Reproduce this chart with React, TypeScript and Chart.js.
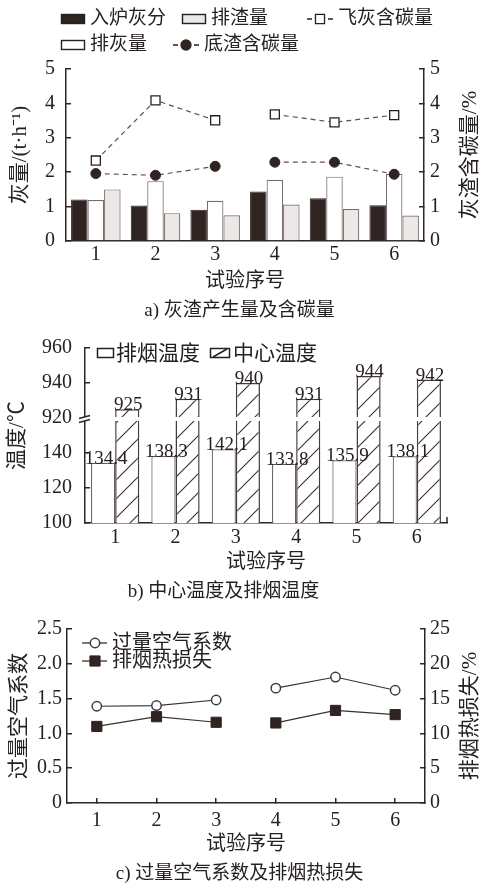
import React, { useEffect, useRef } from 'react';
import { Chart, registerables } from 'chart.js';

Chart.register(...registerables);

// ---------------- data ----------------
const TRIALS = ['1', '2', '3', '4', '5', '6'];
const SERIES_BREAK_AFTER = 3; // lines are not joined between trial 3 and trial 4

// a) 灰渣产生量及含碳量
const FEED_ASH = [1.21, 1.03, 0.91, 1.44, 1.24, 1.04]; // 入炉灰分
const ASH_DISCHARGE = [1.19, 1.74, 1.17, 1.78, 1.87, 1.95]; // 排灰量
const SLAG_DISCHARGE = [1.5, 0.81, 0.75, 1.06, 0.93, 0.74]; // 排渣量
const FLY_ASH_CARBON = [2.34, 4.09, 3.51, 3.68, 3.45, 3.66]; // 飞灰含碳量
const BOTTOM_ASH_CARBON = [1.96, 1.91, 2.17, 2.29, 2.29, 1.94]; // 底渣含碳量
const A_AXIS_MAX = 5;

// b) 中心温度及排烟温度
const FLUE_TEMP = [134.4, 138.3, 142.1, 133.8, 135.9, 138.1]; // 排烟温度
const CENTER_TEMP = [925, 931, 940, 931, 944, 942]; // 中心温度
const B_LOWER_TICKS = [100, 120, 140];
const B_UPPER_TICKS = [920, 940, 960];
const B_STEP = 20;

// c) 过量空气系数及排烟热损失
const EXCESS_AIR = [1.39, 1.4, 1.48, 1.65, 1.81, 1.62]; // 过量空气系数
const FLUE_LOSS = [11.0, 12.4, 11.6, 11.5, 13.3, 12.7]; // 排烟热损失 %
const C_LEFT_MAX = 2.5;
const C_RIGHT_MAX = 25;

// ---------------- style ----------------
const W = 479;
const FONT = "'Liberation Serif', 'Times New Roman', 'Noto Sans CJK SC', serif";
const INK = '#262120';
const AXIS = '#2d2724';
const DARK_FILL = '#2f2421';
const EDGE = '#7a6d68';
const SLAG_FILL = '#ece8e7';
const DASH = '#5e504b';
const CIRCLE_EDGE = '#3c3a48';

Chart.defaults.font.family = FONT;
Chart.defaults.color = INK;

// axis-break mapping for b)
const B_BREAK_POS = B_LOWER_TICKS[B_LOWER_TICKS.length - 1] + B_STEP; // axis position of first upper tick
const B_SHIFT = B_UPPER_TICKS[0] - B_BREAK_POS;
const toAxisB = (v: number) => (v >= B_UPPER_TICKS[0] - B_STEP ? v - B_SHIFT : v);
const B_MIN = B_LOWER_TICKS[0];
const B_MAX = toAxisB(B_UPPER_TICKS[B_UPPER_TICKS.length - 1]);

const breakSeg = (ctx: any) => (ctx.p0DataIndex === SERIES_BREAK_AFTER - 1 ? 'rgba(0,0,0,0)' : undefined);

const yGrid = { display: true, drawOnChartArea: false, drawTicks: true, tickLength: -5, color: AXIS, lineWidth: 1.5 };
const border = { display: true, color: AXIS, width: 1.5 };
const tickFont = { size: 20 };

function sideTitle(text: string) {
  return {
    id: 'sideTitle',
    afterDraw(chart: any) {
      const { ctx, chartArea } = chart;
      const s = chart.scales.y1;
      ctx.save();
      ctx.translate(s.right - 9, (chartArea.top + chartArea.bottom) / 2);
      ctx.rotate(-Math.PI / 2);
      ctx.font = `21px ${FONT}`;
      ctx.fillStyle = INK;
      ctx.textAlign = 'center';
      ctx.textBaseline = 'middle';
      ctx.fillText(text, 0, 0);
      ctx.restore();
    },
  };
}

function drawMarker(ctx: CanvasRenderingContext2D, style: string, x: number, y: number, r: number, fill: string, stroke: string, lw: number) {
  ctx.save();
  ctx.fillStyle = fill;
  ctx.strokeStyle = stroke;
  ctx.lineWidth = lw;
  ctx.setLineDash([]);
  ctx.beginPath();
  if (style === 'rect') {
    const h = r * Math.SQRT1_2;
    ctx.rect(x - h, y - h, 2 * h, 2 * h);
  } else {
    ctx.arc(x, y, r, 0, Math.PI * 2);
  }
  ctx.fill();
  ctx.stroke();
  ctx.restore();
}

// ---------------- chart a ----------------
const legendA = {
  id: 'legendA',
  afterDraw(chart: any) {
    const { ctx } = chart;
    const ds = chart.data.datasets;
    ctx.save();
    ctx.font = `19px ${FONT}`;
    ctx.textBaseline = 'middle';
    ctx.textAlign = 'left';
    const boxItem = (d: any, x: number, y: number) => {
      ctx.fillStyle = d.backgroundColor;
      ctx.fillRect(x, y - 5, 24, 10);
      ctx.strokeStyle = INK;
      ctx.lineWidth = 1.4;
      ctx.strokeRect(x + 0.5, y - 4.5, 23, 9);
      ctx.fillStyle = INK;
      ctx.fillText(d.label, x + 29, y);
    };
    const lineItem = (d: any, x: number, y: number) => {
      ctx.strokeStyle = INK;
      ctx.lineWidth = 1.6;
      ctx.beginPath();
      ctx.moveTo(x, y);
      ctx.lineTo(x + 5, y);
      ctx.moveTo(x + 21, y);
      ctx.lineTo(x + 26, y);
      ctx.stroke();
      drawMarker(ctx, d.pointStyle, x + 13, y, d.pointStyle === 'rect' ? 6.4 : 5, d.pointBackgroundColor, d.pointBorderColor, 1.3);
      ctx.fillStyle = INK;
      ctx.fillText(d.label, x + 31, y);
    };
    boxItem(ds[2], 61, 19);
    boxItem(ds[4], 182, 19);
    lineItem(ds[0], 307, 19);
    boxItem(ds[3], 61, 45);
    lineItem(ds[1], 173, 45);
    ctx.restore();
  },
};

function makeA(canvas: HTMLCanvasElement) {
  return new Chart(canvas, {
    type: 'bar',
    data: {
      labels: TRIALS,
      datasets: [
        {
          type: 'line', label: '飞灰含碳量', data: FLY_ASH_CARBON, yAxisID: 'y1', order: 0,
          borderColor: DASH, borderWidth: 1.2, borderDash: [5, 4], pointStyle: 'rect', pointRadius: 6.4,
          pointBackgroundColor: '#fff', pointBorderColor: INK, pointBorderWidth: 1.3, segment: { borderColor: breakSeg },
        },
        {
          type: 'line', label: '底渣含碳量', data: BOTTOM_ASH_CARBON, yAxisID: 'y1', order: 0,
          borderColor: DASH, borderWidth: 1.2, borderDash: [5, 4], pointStyle: 'circle', pointRadius: 5,
          pointBackgroundColor: DARK_FILL, pointBorderColor: DARK_FILL, pointBorderWidth: 1, segment: { borderColor: breakSeg },
        },
        { label: '入炉灰分', data: FEED_ASH, yAxisID: 'y', order: 1, backgroundColor: DARK_FILL, borderColor: DARK_FILL, borderWidth: 1 },
        { label: '排灰量', data: ASH_DISCHARGE, yAxisID: 'y', order: 1, backgroundColor: '#ffffff', borderColor: EDGE, borderWidth: 1.2 },
        { label: '排渣量', data: SLAG_DISCHARGE, yAxisID: 'y', order: 1, backgroundColor: SLAG_FILL, borderColor: EDGE, borderWidth: 1.2 },
      ] as any,
    },
    options: {
      animation: false,
      responsive: false,
      maintainAspectRatio: false,
      layout: { padding: { top: 69, left: 0, right: 0, bottom: 0 } },
      datasets: { bar: { barPercentage: 1, categoryPercentage: 0.83 } },
      plugins: {
        legend: { display: false },
        tooltip: { enabled: false },
        title: {
          display: true, position: 'bottom', text: 'a) 灰渣产生量及含碳量', color: INK,
          font: { size: 19, weight: 'normal', lineHeight: 1.2 }, padding: { top: 0, bottom: 7.6 },
        },
      },
      scales: {
        x: {
          grid: { display: false, drawTicks: false },
          border,
          ticks: { font: tickFont, color: INK, padding: 1.5 },
          title: { display: true, text: '试验序号', color: INK, font: { size: 20, lineHeight: 1.2 }, padding: { top: 0, bottom: 5.6 } },
          afterFit: (s: any) => { s.height = 58.6; },
        },
        y: {
          position: 'left', min: 0, max: A_AXIS_MAX,
          grid: yGrid, border,
          ticks: { stepSize: 1, font: tickFont, color: INK, padding: 16 },
          title: { display: true, text: '灰量/(t·h⁻¹)', color: INK, font: { size: 21, lineHeight: 1.2 }, padding: { top: 7.4, bottom: 0 } },
          afterFit: (s: any) => { s.width = 66; },
        },
        y1: {
          position: 'right', min: 0, max: A_AXIS_MAX,
          grid: yGrid, border,
          ticks: { stepSize: 1, font: tickFont, color: INK, padding: 11 },
          afterFit: (s: any) => { s.width = 55; },
        },
      },
    } as any,
    plugins: [legendA, sideTitle('灰渣含碳量/%')],
  });
}

// ---------------- chart b ----------------
function hatchPattern(ctx: CanvasRenderingContext2D) {
  const size = 19;
  const c = document.createElement('canvas');
  c.width = size;
  c.height = size;
  const g = c.getContext('2d')!;
  g.fillStyle = '#fff';
  g.fillRect(0, 0, size, size);
  g.strokeStyle = '#3a302c';
  g.lineWidth = 1.1;
  g.beginPath();
  g.moveTo(-1, size + 1);
  g.lineTo(size + 1, -1);
  g.moveTo(-2, 2);
  g.lineTo(2, -2);
  g.moveTo(size - 2, size + 2);
  g.lineTo(size + 2, size - 2);
  g.stroke();
  return ctx.createPattern(c, 'repeat')!;
}

const legendAndLabelsB = {
  id: 'legendAndLabelsB',
  afterDatasetsDraw(chart: any) {
    const { ctx, chartArea } = chart;
    const y = chart.scales.y.getPixelForValue(B_BREAK_POS);
    ctx.save();
    // axis break band
    ctx.fillStyle = '#fff';
    ctx.fillRect(chartArea.left - 7, y - 1, chartArea.right - chartArea.left + 7, 4);
    ctx.strokeStyle = AXIS;
    ctx.lineWidth = 1.3;
    ctx.beginPath();
    ctx.moveTo(chartArea.left - 6, y + 0.5);
    ctx.lineTo(chartArea.left + 5, y - 2.5);
    ctx.moveTo(chartArea.left - 6, y + 4.5);
    ctx.lineTo(chartArea.left + 5, y + 1.5);
    ctx.stroke();
    // right end tick of x axis
    ctx.lineWidth = 1.5;
    ctx.beginPath();
    ctx.moveTo(chartArea.right, chartArea.bottom);
    ctx.lineTo(chartArea.right, chartArea.bottom - 6);
    ctx.stroke();
    // value labels
    ctx.font = `19px ${FONT}`;
    ctx.fillStyle = INK;
    ctx.textAlign = 'center';
    ctx.textBaseline = 'alphabetic';
    const sets = [FLUE_TEMP, CENTER_TEMP];
    sets.forEach((vals, di) => {
      const meta = chart.getDatasetMeta(di);
      meta.data.forEach((el: any, i: number) => {
        ctx.fillText(String(vals[i]), el.x + (di === 0 ? 3 : 1), el.y + 1);
      });
    });
    // legend
    const ds = chart.data.datasets;
    ctx.font = `21px ${FONT}`;
    ctx.textAlign = 'left';
    ctx.textBaseline = 'middle';
    const ly = 23;
    ctx.fillStyle = '#fff';
    ctx.fillRect(97, ly - 5, 17, 10);
    ctx.strokeStyle = INK;
    ctx.lineWidth = 1.5;
    ctx.strokeRect(97.5, ly - 4.5, 16, 9);
    ctx.fillStyle = INK;
    ctx.fillText(ds[0].label, 116, ly + 1);
    ctx.strokeRect(210.5, ly - 4.5, 19, 9);
    ctx.beginPath();
    ctx.moveTo(213, ly + 4);
    ctx.lineTo(227, ly - 4);
    ctx.stroke();
    ctx.fillText(ds[1].label, 233, ly + 1);
    ctx.restore();
  },
};

function makeB(canvas: HTMLCanvasElement) {
  const ctx = canvas.getContext('2d')!;
  return new Chart(canvas, {
    type: 'bar',
    data: {
      labels: TRIALS,
      datasets: [
        { label: '排烟温度', data: FLUE_TEMP.map(toAxisB), backgroundColor: '#ffffff', borderColor: '#6a5d58', borderWidth: 1.2 },
        { label: '中心温度', data: CENTER_TEMP.map(toAxisB), backgroundColor: hatchPattern(ctx), borderColor: '#4a3c38', borderWidth: 1.5 },
      ],
    },
    options: {
      animation: false,
      responsive: false,
      maintainAspectRatio: false,
      layout: { padding: { top: 18, left: 0, right: 32, bottom: 0 } },
      datasets: { bar: { barPercentage: 1, categoryPercentage: 0.8 } },
      plugins: {
        legend: { display: false },
        tooltip: { enabled: false },
        title: {
          display: true, position: 'bottom', text: 'b) 中心温度及排烟温度', color: INK,
          font: { size: 19, weight: 'normal', lineHeight: 1.2 }, padding: { top: 0, bottom: 7 },
        },
      },
      scales: {
        x: {
          grid: { display: false, drawTicks: false },
          border,
          ticks: { font: tickFont, color: INK, padding: 3 },
          title: { display: true, text: '试验序号', color: INK, font: { size: 20, lineHeight: 1.2 }, padding: { top: 0, bottom: 5.2 } },
          afterFit: (s: any) => { s.height = 57.2; },
        },
        y: {
          position: 'left', min: B_MIN, max: B_MAX,
          grid: yGrid, border,
          ticks: {
            stepSize: B_STEP, font: tickFont, color: INK, padding: 18,
            callback: (v: any) => (v >= B_BREAK_POS ? v + B_SHIFT : v),
          },
          title: { display: true, text: '温度/℃', color: INK, font: { size: 21, lineHeight: 1.2 }, padding: { top: 5, bottom: 0 } },
          afterFit: (s: any) => { s.width = 85; s.paddingTop = 0; s.paddingBottom = 0; },
        },
      },
    } as any,
    plugins: [legendAndLabelsB],
  });
}

// ---------------- chart c ----------------
const legendC = {
  id: 'legendC',
  afterDraw(chart: any) {
    const { ctx } = chart;
    const ds = chart.data.datasets;
    ctx.save();
    ctx.font = `20px ${FONT}`;
    ctx.textAlign = 'left';
    ctx.textBaseline = 'middle';
    const rows = [33, 51];
    ds.forEach((d: any, i: number) => {
      const y = rows[i];
      ctx.strokeStyle = d.borderColor;
      ctx.lineWidth = 1.3;
      ctx.beginPath();
      ctx.moveTo(82, y);
      ctx.lineTo(107, y);
      ctx.stroke();
      drawMarker(ctx, d.pointStyle, 95, y, d.pointRadius, d.pointBackgroundColor, d.pointBorderColor, d.pointBorderWidth);
      ctx.fillStyle = INK;
      ctx.fillText(d.label, 112, y + 1);
    });
    ctx.restore();
  },
};

function makeC(canvas: HTMLCanvasElement) {
  return new Chart(canvas, {
    type: 'line',
    data: {
      labels: TRIALS,
      datasets: [
        {
          label: '过量空气系数', data: EXCESS_AIR, yAxisID: 'y',
          borderColor: '#3b302c', borderWidth: 1.2, pointStyle: 'circle', pointRadius: 4.7,
          pointBackgroundColor: '#fff', pointBorderColor: CIRCLE_EDGE, pointBorderWidth: 1.5, segment: { borderColor: breakSeg },
        },
        {
          label: '排烟热损失', data: FLUE_LOSS, yAxisID: 'y1',
          borderColor: '#3b302c', borderWidth: 1.2, pointStyle: 'rect', pointRadius: 7.2,
          pointBackgroundColor: DARK_FILL, pointBorderColor: DARK_FILL, pointBorderWidth: 1, segment: { borderColor: breakSeg },
        },
      ] as any,
    },
    options: {
      animation: false,
      responsive: false,
      maintainAspectRatio: false,
      layout: { padding: { top: 19, left: 0, right: 0, bottom: 0 } },
      plugins: {
        legend: { display: false },
        tooltip: { enabled: false },
        title: {
          display: true, position: 'bottom', text: 'c) 过量空气系数及排烟热损失', color: INK,
          font: { size: 19, weight: 'normal', lineHeight: 1.2 }, padding: { top: 0, bottom: 0 },
        },
      },
      scales: {
        x: {
          offset: true,
          grid: { display: true, offset: false, drawOnChartArea: false, drawTicks: true, tickLength: -5, color: AXIS, lineWidth: 1.5 },
          border,
          ticks: { font: tickFont, color: INK, padding: 10.4 },
          title: { display: true, text: '试验序号', color: INK, font: { size: 20, lineHeight: 1.2 }, padding: { top: 0, bottom: 5.2 } },
          afterFit: (s: any) => { s.height = 59.2; },
        },
        y: {
          position: 'left', min: 0, max: C_LEFT_MAX,
          grid: yGrid, border,
          ticks: {
            stepSize: 0.5, font: tickFont, color: INK, padding: 10,
            callback: (v: any) => (v === 0 ? '0' : Number(v).toFixed(1)),
          },
          title: { display: true, text: '过量空气系数', color: INK, font: { size: 21, lineHeight: 1.2 }, padding: { top: 6.4, bottom: 0 } },
          afterFit: (s: any) => { s.width = 67; s.paddingTop = 0; s.paddingBottom = 0; },
        },
        y1: {
          position: 'right', min: 0, max: C_RIGHT_MAX,
          grid: yGrid, border,
          ticks: { stepSize: 5, font: tickFont, color: INK, padding: 10 },
          afterFit: (s: any) => { s.width = 54; s.paddingTop = 0; s.paddingBottom = 0; },
        },
      },
    } as any,
    plugins: [legendC, sideTitle('排烟热损失/%')],
  });
}

// ---------------- components ----------------
function ChartBox({ top, height, make }: { top: number; height: number; make: (c: HTMLCanvasElement) => Chart }) {
  const ref = useRef<HTMLCanvasElement | null>(null);
  useEffect(() => {
    const chart = make(ref.current!);
    return () => chart.destroy();
  }, [make]);
  return (
    <div style={{ position: 'absolute', left: 0, top, width: W, height }}>
      <canvas ref={ref} width={W} height={height} style={{ display: 'block', width: W, height }} />
    </div>
  );
}

export default function App() {
  return (
    <div style={{ position: 'absolute', left: 0, top: 0, width: W, height: 885, overflow: 'hidden', background: '#fff' }}>
      <ChartBox top={0} height={330} make={makeA} />
      <ChartBox top={330} height={280} make={makeB} />
      <ChartBox top={610} height={275} make={makeC} />
    </div>
  );
}
